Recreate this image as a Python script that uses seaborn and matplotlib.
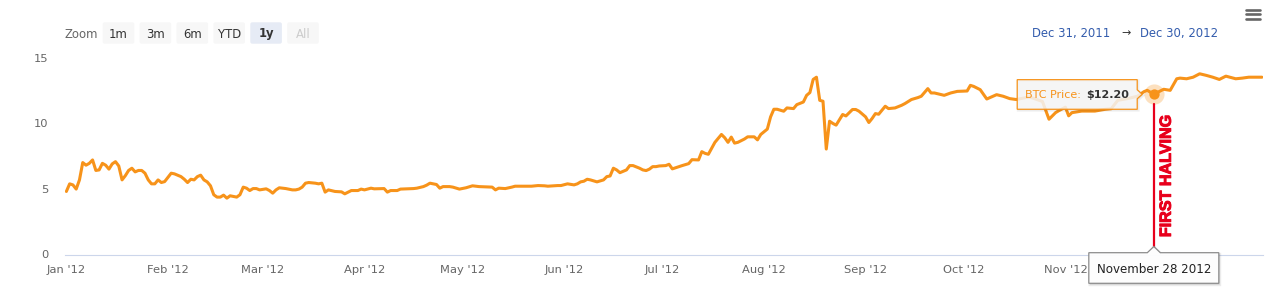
import os
import numpy as np
import pandas as pd
import matplotlib
matplotlib.use("Agg")
import matplotlib.pyplot as plt
import matplotlib.dates as mdates
import matplotlib.patheffects as pe
from matplotlib.patches import Polygon, FancyBboxPatch
from matplotlib.lines import Line2D
from matplotlib.transforms import IdentityTransform
from matplotlib.font_manager import FontProperties, findfont
import seaborn as sns

# ---------------- data ----------------
start_date = "2012-01-01"
day_offsets = [
    0, 1, 2, 3, 4, 5, 6, 7, 8, 9, 10, 11, 12, 13, 14, 15, 16, 17, 18, 19,
    20, 21, 22, 23, 24, 25, 26, 27, 28, 29, 30, 32, 33, 35, 36, 37, 38, 39, 40, 41,
    42, 43, 44, 45, 46, 47, 48, 49, 50, 51, 52, 53, 54, 55, 56, 57, 58, 59, 61, 62,
    63, 64, 65, 67, 69, 70, 71, 72, 73, 74, 76, 77, 78, 79, 80, 82, 84, 85, 87, 89,
    90, 91, 93, 94, 97, 98, 99, 101, 102, 104, 106, 107, 109, 110, 111, 113, 114, 115, 117, 118,
    120, 122, 124, 126, 128, 130, 131, 132, 134, 136, 137, 140, 142, 144, 146, 147, 150, 151, 153, 155,
    156, 157, 158, 159, 160, 162, 164, 165, 166, 167, 168, 169, 171, 172, 173, 175, 176, 177, 178, 179,
    180, 181, 183, 184, 185, 187, 188, 190, 191, 193, 194, 195, 196, 198, 200, 201, 202, 203, 204, 205,
    207, 208, 210, 211, 212, 214, 215, 216, 217, 219, 220, 222, 223, 225, 226, 227, 228, 229, 230, 231,
    232, 233, 234, 235, 237, 238, 240, 241, 242, 244, 245, 246, 247, 248, 250, 251, 253, 255, 256, 258,
    260, 261, 263, 264, 265, 268, 270, 272, 275, 276, 277, 279, 281, 282, 284, 286, 288, 290, 294, 298,
    300, 302, 303, 305, 306, 307, 310, 314, 317, 319, 321, 324, 327, 329, 330, 332, 335, 337, 339, 340,
    342, 344, 346, 348, 350, 352, 354, 357, 359, 361, 365,
]
btc_price = [
    4.80, 5.38, 5.30, 4.98, 5.68, 7.00, 6.80, 6.94, 7.20, 6.40, 6.44, 6.94, 6.80, 6.50, 6.90, 7.07, 6.74, 5.68, 6.00, 6.40,
    6.57, 6.29, 6.40, 6.40, 6.19, 5.68, 5.38, 5.38, 5.68, 5.48, 5.55, 6.19, 6.14, 5.93, 5.73, 5.48, 5.73, 5.68, 5.93, 6.04,
    5.68, 5.53, 5.23, 4.55, 4.37, 4.37, 4.52, 4.29, 4.47, 4.42, 4.37, 4.55, 5.13, 5.05, 4.87, 5.02, 5.02, 4.92, 5.00, 4.87,
    4.67, 4.92, 5.08, 5.02, 4.92, 4.92, 4.98, 5.13, 5.43, 5.48, 5.43, 5.38, 5.43, 4.75, 4.92, 4.80, 4.77, 4.62, 4.87, 4.87,
    4.98, 4.92, 5.05, 5.00, 5.02, 4.75, 4.87, 4.87, 4.98, 5.00, 5.02, 5.05, 5.17, 5.28, 5.43, 5.33, 5.05, 5.17, 5.17, 5.13,
    4.98, 5.08, 5.23, 5.17, 5.15, 5.13, 4.92, 5.05, 5.02, 5.13, 5.20, 5.20, 5.20, 5.25, 5.23, 5.20, 5.25, 5.25, 5.38, 5.30,
    5.38, 5.53, 5.58, 5.73, 5.68, 5.53, 5.68, 5.93, 5.98, 6.57, 6.44, 6.23, 6.44, 6.77, 6.77, 6.57, 6.44, 6.39, 6.50, 6.69,
    6.69, 6.74, 6.77, 6.87, 6.52, 6.69, 6.77, 6.92, 7.22, 7.20, 7.83, 7.70, 7.63, 8.54, 9.14, 8.89, 8.54, 8.94, 8.48, 8.54,
    8.79, 8.96, 8.96, 8.73, 9.14, 9.55, 10.48, 11.06, 11.06, 10.91, 11.16, 11.11, 11.41, 11.61, 12.12, 12.33, 13.33, 13.50, 11.74, 11.67,
    8.03, 10.15, 9.98, 9.85, 10.66, 10.55, 11.04, 11.04, 10.91, 10.48, 10.05, 10.36, 10.73, 10.68, 11.29, 11.11, 11.16, 11.36, 11.49, 11.80,
    11.95, 12.05, 12.63, 12.30, 12.30, 12.12, 12.30, 12.42, 12.45, 12.88, 12.80, 12.55, 11.84, 11.95, 12.17, 12.05, 11.87, 11.80, 12.00, 11.65,
    10.30, 10.80, 10.95, 11.22, 10.56, 10.80, 10.92, 10.92, 11.05, 11.10, 11.74, 11.87, 12.05, 12.40, 12.50, 12.20, 12.58, 12.50, 13.38, 13.43,
    13.38, 13.50, 13.76, 13.64, 13.50, 13.33, 13.58, 13.38, 13.43, 13.50, 13.50,
]
y_ticks = [0, 5, 10, 15]
halving_date = "2012-11-28"
halving_price = 12.20
halving_label = "FIRST HALVING"
tooltip_name = "BTC Price"
tooltip_date_label = "November 28 2012"
range_start = "Dec 31, 2011"
range_end = "Dec 30, 2012"
zoom_buttons = ["1m", "3m", "6m", "YTD", "1y", "All"]
selected_button = "1y"
disabled_button = "All"

# ---------------- styling ----------------
W, H = 1280, 300
ORANGE = "#f7931a"
RED = "#e8001c"
AXIS_C = "#ccd6eb"
LABEL_C = "#666666"

sns.set_theme(style="white")
plt.rcParams["font.family"] = ["DejaVu Sans"]


def bold_family():
    """first installed family that really has a bold face (Arial-like preferred)"""
    for fam in ["Liberation Sans", "Roboto", "Open Sans", "Inter", "Lato", "Noto Sans"]:
        try:
            path = findfont(FontProperties(family=fam, weight="bold"), fallback_to_default=False)
        except Exception:
            continue
        name = os.path.basename(path).lower()
        if "bold" in name or "black" in name or "heavy" in name:
            return fam, True
    return "DejaVu Sans", False


halv_family, arial_like = bold_family()

fig = plt.figure(figsize=(W / 100, H / 100), dpi=100)
fig.patch.set_facecolor("white")
ax = fig.add_axes([65 / W, 45.5 / H, (1263 - 65) / W, (242.5 - 45.5) / H])
ax.set_facecolor("white")

df = pd.DataFrame({
    "date": pd.Timestamp(start_date) + pd.to_timedelta(day_offsets, unit="D"),
    "price": btc_price,
})
sns.lineplot(data=df, x="date", y="price", ax=ax, color=ORANGE, linewidth=2.2)
for ln in ax.get_lines():
    ln.set_solid_joinstyle("round")
    ln.set_solid_capstyle("round")

ax.set_xlim(df["date"].min() - pd.Timedelta(hours=10), df["date"].max() + pd.Timedelta(hours=8))
ax.set_ylim(y_ticks[0], y_ticks[-1])
ax.set_yticks(y_ticks)
ax.xaxis.set_major_locator(mdates.MonthLocator())
ax.xaxis.set_major_formatter(mdates.DateFormatter("%b '%y"))
ax.set_xlabel("")
ax.set_ylabel("")
ax.grid(False)
for s in ["top", "right", "left"]:
    ax.spines[s].set_visible(False)
ax.spines["bottom"].set_color(AXIS_C)
ax.spines["bottom"].set_linewidth(0.8)
ax.tick_params(axis="x", direction="out", length=6.5, width=0.75, color=AXIS_C,
               labelcolor=LABEL_C, labelsize=8.25, pad=1.0)
ax.tick_params(axis="y", length=0, labelcolor=LABEL_C, labelsize=8.25, pad=12.2)

# ---------------- halving marker ----------------
hx = mdates.date2num(pd.Timestamp(halving_date))
px, py = ax.transData.transform((hx, halving_price))   # display pixels
_, py0 = ax.transData.transform((hx, y_ticks[0]))
ID = IdentityTransform()
renderer = fig.canvas.get_renderer()

def P(x, y):
    """image (top-down) pixel -> display pixel"""
    return (x, H - y)

# red line from the date tooltip pointer up to just below the point
fig.add_artist(Line2D([px, px], [py0 + 7, py - 10], transform=ID, color=RED, lw=1.6, zorder=5))
ax.plot([hx], [halving_price], "o", ms=14.5, color=ORANGE, alpha=0.28, mec="none", clip_on=False, zorder=6)
ax.plot([hx], [halving_price], "o", ms=7.4, color=ORANGE, mec="none", clip_on=False, zorder=7)
halv_font = FontProperties(family=halv_family, weight="bold", size=11.6 if arial_like else 10.0)
ax.annotate(halving_label, xy=(hx, y_ticks[0]), xycoords="data",
            xytext=(9.0, 12.5), textcoords="offset points", rotation=90,
            ha="center", va="bottom", color=RED, fontproperties=halv_font, zorder=8,
            path_effects=[pe.withStroke(linewidth=0.7, foreground=RED)])

# value tooltip (left of the point)
L, R = px - 136.6, px - 16.6
T, B = py + 14.6, py - 15.0
tip_poly = [(L, T), (R, T), (R, py + 4.5), (R + 5, py), (R, py - 4.5), (R, B), (L, B)]
fig.add_artist(Polygon([(x + 1, y - 1) for x, y in tip_poly], closed=True, transform=ID,
                       facecolor=(0, 0, 0, 0.06), edgecolor=(0, 0, 0, 0.06), lw=2, zorder=9))
fig.add_artist(Polygon(tip_poly, closed=True, transform=ID,
                       facecolor=(0.97, 0.97, 0.97, 0.85), edgecolor=ORANGE, lw=0.9, zorder=10))
t1 = fig.text(L + 7.6, py, f"{tooltip_name}:", transform=ID, ha="left", va="center_baseline",
              color=ORANGE, fontsize=8.0, zorder=11)
bb = t1.get_window_extent(renderer)
fig.text(bb.x1 + 5.5, py, f"${halving_price:.2f}", transform=ID, ha="left", va="center_baseline",
         color="#333333", fontsize=8.0, fontweight="bold", zorder=11)

# date tooltip below the axis
dl, dr = px - 65.0, px + 65.0
dt, db = py0 + 1.8, py0 - 28.8
date_poly = [(dl, dt), (px - 6.5, dt), (px, dt + 6.2), (px + 6.5, dt), (dr, dt), (dr, db), (dl, db)]
fig.add_artist(Polygon([(x + 1, y - 1.5) for x, y in date_poly], closed=True, transform=ID,
                       facecolor=(0, 0, 0, 0.10), edgecolor=(0, 0, 0, 0.08), lw=2, zorder=9))
fig.add_artist(Polygon(date_poly, closed=True, transform=ID,
                       facecolor=(1, 1, 1, 0.96), edgecolor="#8c8c8c", lw=0.9, zorder=10))
fig.text(px, (dt + db) / 2, tooltip_date_label, transform=ID, ha="center", va="center_baseline",
         color="#222222", fontsize=8.6, zorder=11)

# ---------------- range selector / navigation UI ----------------
fig.text(*P(64.7, 32.5), "Zoom", transform=ID, ha="left", va="center_baseline",
         color=LABEL_C, fontsize=8.4)
for i, name in enumerate(zoom_buttons):
    bx = 102.7 + i * 36.9
    sel = name == selected_button
    dis = name == disabled_button
    fc = "#e6ebf5" if sel else "#f7f7f7"
    fig.add_artist(FancyBboxPatch(P(bx, 43.7), 31.6, 21.4, boxstyle="round,pad=0,rounding_size=2",
                                  transform=ID, facecolor=fc, edgecolor="none"))
    fig.text(*P(bx + 15.8, 32.5), name, transform=ID, ha="center", va="center_baseline",
             color="#cccccc" if dis else "#333333", fontsize=8.4,
             fontweight="bold" if sel else "normal")

fig.text(*P(1031.7, 32.5), range_start, transform=ID, ha="left", va="center_baseline",
         color="#335cad", fontsize=8.4)
fig.text(*P(1126.5, 32.0), "\u2192", transform=ID, ha="center", va="center_baseline",
         color="#333333", fontsize=8.0)
fig.text(*P(1218, 32.5), range_end, transform=ID, ha="right", va="center_baseline",
         color="#335cad", fontsize=8.4)

for yy in (10.0, 14.3, 18.7):
    fig.add_artist(Line2D([1245.5, 1260.0], [H - yy, H - yy], transform=ID,
                          color=LABEL_C, lw=1.9, solid_capstyle="round"))

fig.savefig("out.png", dpi=100, facecolor="white")
